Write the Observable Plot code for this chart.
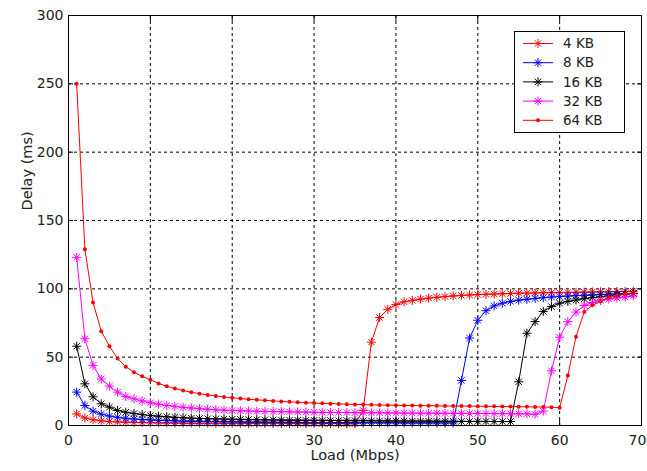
<!DOCTYPE html>
<html><head><meta charset="utf-8">
<script src="https://cdn.jsdelivr.net/npm/d3@7"></script>
<script src="https://cdn.jsdelivr.net/npm/@observablehq/plot@0.6"></script>
<style>body{margin:0;background:#fff}#chart{width:647px;height:471px}</style>
</head><body><div id="chart"></div>
<script>
const loads = [1,2,3,4,5,6,7,8,9,10,11,12,13,14,15,16,17,18,19,20,21,22,23,24,25,26,27,28,29,30,31,32,33,34,35,36,37,38,39,40,41,42,43,44,45,46,47,48,49,50,51,52,53,54,55,56,57,58,59,60,61,62,63,64,65,66,67,68,69];
const delay4KB = [8.5,5.5,4.2,3.4,2.9,2.6,2.4,2.2,2.1,2.0,1.9,1.9,1.8,1.8,1.7,1.7,1.7,1.6,1.6,1.6,1.6,1.5,1.5,1.5,1.5,1.5,1.4,1.4,1.4,1.4,1.4,1.4,1.3,1.3,1.3,11,61,79,85,88.5,90.5,91.5,92.5,93.2,93.8,94.3,94.8,95.2,95.5,95.8,96.0,96.2,96.4,96.6,96.8,96.9,97.0,97.1,97.2,97.3,97.4,97.5,97.6,97.7,97.8,97.9,98.0,98.1,98.2];
const delay8KB = [24.4,14.6,10.5,8.3,6.9,6.0,5.3,4.8,4.4,4.1,3.8,3.6,3.4,3.2,3.1,3.0,2.9,2.8,2.7,2.6,2.6,2.5,2.5,2.4,2.4,2.3,2.3,2.3,2.2,2.2,2.2,2.1,2.1,2.1,2.1,2.0,2.0,2.0,2.0,2.0,1.9,1.9,1.9,1.9,1.9,1.9,1.9,33,64,77,84,87.5,89.5,90.8,91.7,92.4,93.0,93.5,94.0,94.4,94.7,95.0,95.3,95.5,95.8,96.0,96.2,96.4,96.6];
const delay16KB = [58,30.5,21,15.9,13.4,11,9.7,8.8,8.0,7.3,6.8,6.4,6.0,5.7,5.4,5.2,5.0,4.9,4.7,4.6,4.5,4.4,4.3,4.2,4.1,4.0,3.9,3.9,3.8,3.8,3.7,3.7,3.6,3.6,3.5,3.5,3.4,3.4,3.3,3.3,3.3,3.2,3.2,3.2,3.1,3.1,3.1,3.0,3.0,3.0,3.0,2.9,2.9,2.9,32,67.5,76,83.5,87,89.5,90.8,91.8,92.7,93.5,94.2,94.9,95.5,96.1,96.7];
const delay32KB = [123,63.5,44,34,28.8,24.4,21.2,19.5,18,16.6,15.6,14.7,14,13.3,12.8,12.3,11.9,11.5,11.2,11,10.8,10.6,10.4,10.3,10.2,10.1,10,9.9,9.8,9.7,9.6,9.6,9.5,9.5,9.4,9.4,9.3,9.3,9.2,9.2,9.1,9.1,9.0,9.0,9.0,8.9,8.9,8.9,8.8,8.8,8.8,8.7,8.7,8.6,8.6,8.5,8.2,10.5,40,64.6,76,83,87.8,90,91.5,92.5,93.3,94,94.8];
const delay64KB = [250,129,90,69,58,49,43,39,36,33.4,30.8,28.7,27,25.6,24.3,23.3,22.4,21.6,20.9,20.3,19.7,19.2,18.8,18.4,18,17.6,17.3,17,16.7,16.4,16.2,16,15.8,15.6,15.4,15.3,15.1,15.0,14.9,14.8,14.7,14.6,14.5,14.5,14.4,14.3,14.3,14.2,14.2,14.1,14.0,14.0,13.9,13.9,13.8,13.7,13.6,13.5,13.4,13.0,36.6,65,83,88,91,93.5,95,96.2,97];

const seriesNames = ["4 KB","8 KB","16 KB","32 KB","64 KB"];
const seriesValues = [delay4KB, delay8KB, delay16KB, delay32KB, delay64KB];
const seriesColors = ["#ff0000","#0000ff","#000000","#ff00ff","#ff0000"];
const seriesMarkers = ["asterisk","asterisk","asterisk","asterisk","point"];
const xTicks = [0,10,20,30,40,50,60,70];
const yTicks = [0,50,100,150,200,250,300];

const asterisk = {
  draw(ctx, size) {
    const r = Math.sqrt(size / Math.PI), d = r * Math.SQRT1_2;
    ctx.moveTo(-r, 0); ctx.lineTo(r, 0);
    ctx.moveTo(0, -r); ctx.lineTo(0, r);
    ctx.moveTo(-d, -d); ctx.lineTo(d, d);
    ctx.moveTo(-d, d); ctx.lineTo(d, -d);
  }
};
const STAR_R = 4.5, POINT_R = 2;

const tables = seriesNames.map((s, i) => loads.map((x, j) => ({series: s, load: x, delay: seriesValues[i][j]})));

const seriesMarks = tables.flatMap((t, i) => [
  Plot.line(t, {x: "load", y: "delay", stroke: seriesColors[i], strokeWidth: 1}),
  seriesMarkers[i] === "asterisk"
    ? Plot.dot(t, {x: "load", y: "delay", symbol: asterisk, r: STAR_R, stroke: seriesColors[i], fill: "none", strokeWidth: 1})
    : Plot.dot(t, {x: "load", y: "delay", r: POINT_R, fill: seriesColors[i], stroke: "none"})
]);

const lastX = xTicks[xTicks.length - 1];
const chart = Plot.plot({
  width: 647, height: 471,
  marginLeft: 68, marginRight: 6, marginTop: 15, marginBottom: 46,
  style: {fontFamily: "DejaVu Sans, sans-serif", fontSize: "14px", background: "#fff", color: "#000"},
  x: {domain: [0, 70]},
  y: {domain: [0, 300]},
  marks: [
    Plot.gridX(xTicks, {stroke: "#000", strokeOpacity: 1, strokeDasharray: "3,3"}),
    Plot.gridY(yTicks, {stroke: "#000", strokeOpacity: 1, strokeDasharray: "3,3"}),
    Plot.axisX(xTicks.filter(t => t !== lastX), {anchor: "bottom", tickSize: 0, tickPadding: 10, label: null, fill: "#222"}),
    Plot.axisX([lastX], {anchor: "bottom", tickSize: 0, tickPadding: 10, label: null, fill: "#222", dx: -4}),
    Plot.axisY(yTicks, {anchor: "left", tickSize: 0, tickPadding: 5, label: null, fill: "#222"}),
    Plot.axisX(xTicks, {anchor: "bottom", tickSize: 5, dy: -5, tickFormat: () => "", label: null}),
    Plot.axisX(xTicks, {anchor: "top", tickSize: 5, dy: 5, tickFormat: () => "", label: null}),
    Plot.axisY(yTicks, {anchor: "left", tickSize: 5, dx: 5, tickFormat: () => "", label: null}),
    Plot.axisY(yTicks, {anchor: "right", tickSize: 5, dx: -5, tickFormat: () => "", label: null}),
    ...seriesMarks,
    Plot.frame({stroke: "#000"}),
    Plot.text(["Load (Mbps)"], {text: d => d, frameAnchor: "bottom", dy: 34, fontSize: 14.5, fill: "#222"}),
    Plot.text(["Delay (ms)"], {text: d => d, frameAnchor: "left", dx: -41, dy: -10, rotate: -90, fontSize: 14.5, fill: "#222"})
  ]
});
document.getElementById("chart").appendChild(chart);

// Legend box inside the plot (upper right), as in the reference
const svg = d3.select(chart);
const lg = svg.append("g").attr("font-family", "DejaVu Sans, sans-serif").attr("font-size", 13.5)
  .attr("text-anchor", "start");
lg.append("rect").attr("x", 514.5).attr("y", 31.5).attr("width", 110).attr("height", 101)
  .attr("fill", "#fff").attr("stroke", "#000");
seriesNames.forEach((name, i) => {
  const y = 43.5 + i * 19.2;
  lg.append("line").attr("x1", 523).attr("x2", 553).attr("y1", y).attr("y2", y)
    .attr("stroke", seriesColors[i]).attr("stroke-width", 1);
  if (seriesMarkers[i] === "asterisk") {
    const p = d3.path(); asterisk.draw(p, STAR_R * STAR_R * Math.PI);
    lg.append("path").attr("d", p.toString()).attr("transform", `translate(538,${y})`)
      .attr("stroke", seriesColors[i]).attr("fill", "none");
  } else {
    lg.append("circle").attr("cx", 538).attr("cy", y).attr("r", POINT_R).attr("fill", seriesColors[i]);
  }
  lg.append("text").attr("x", 563).attr("y", y).attr("dy", "0.35em").attr("text-anchor", "start")
    .attr("fill", "#222").text(name);
});
</script></body></html>
